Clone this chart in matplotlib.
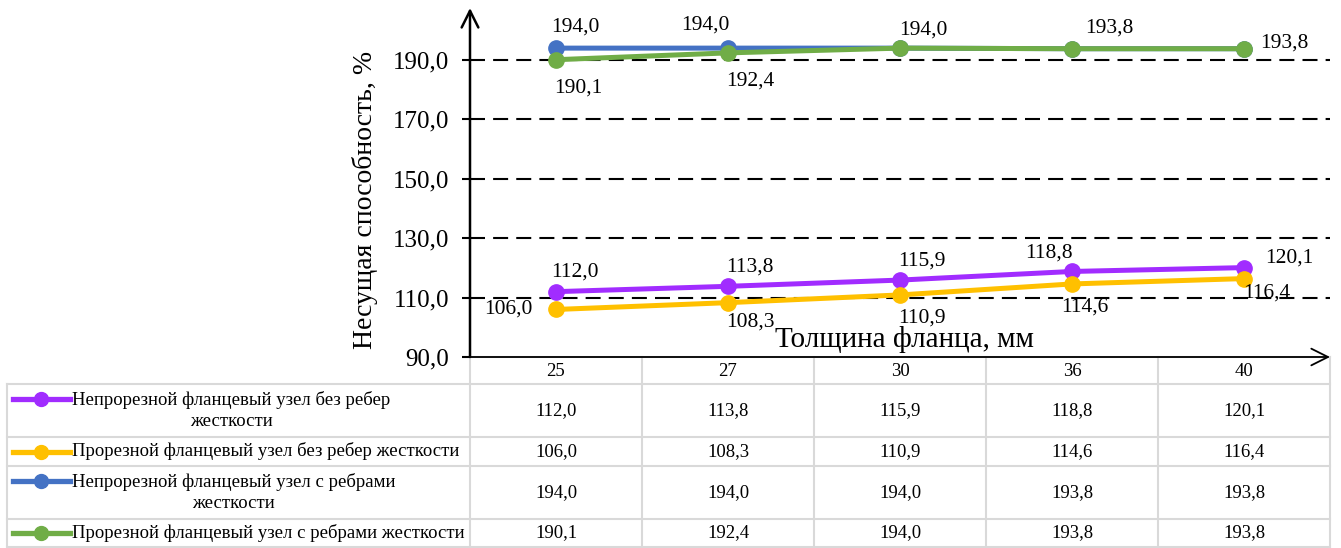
import numpy as np
import matplotlib.pyplot as plt

plt.rcParams["font.family"] = ["Liberation Serif", "DejaVu Serif"]

thickness = ["25", "27", "30", "36", "40"]
series_names = [
    "Непрорезной фланцевый узел без ребер\nжесткости",
    "Прорезной фланцевый узел без ребер жесткости",
    "Непрорезной фланцевый узел с ребрами\nжесткости",
    "Прорезной фланцевый узел с ребрами жесткости",
]
solid_no_ribs = [112.0, 113.8, 115.9, 118.8, 120.1]
slotted_no_ribs = [106.0, 108.3, 110.9, 114.6, 116.4]
solid_ribs = [194.0, 194.0, 194.0, 193.8, 193.8]
slotted_ribs = [190.1, 192.4, 194.0, 193.8, 193.8]
values = [solid_no_ribs, slotted_no_ribs, solid_ribs, slotted_ribs]
colors = ["#A12CFF", "#FFC000", "#4472C4", "#70AD47"]

# label offsets in pixels (None = label not shown)
offsets = [
    [(19, 20), (22, 19), (22, 19), (-23, 18), (45, 10)],
    [(-48, 0), (22, -19), (22, -23), (13, -23), (23, -14)],
    [(19, 21), (-23, 23), (23, 18), (37, 21), (40, 6)],
    [(22, -28), (22, -28), None, None, None],
]

W, H = 1341, 548
fig = plt.figure(figsize=(W / 100, H / 100), dpi=100)

# pixel-coordinate layer for the data table
tab = fig.add_axes([0, 0, 1, 1])
tab.set_xlim(0, W)
tab.set_ylim(H, 0)
tab.axis("off")

ax_l, ax_r, ax_t, ax_b = 470, 1330, 8, 357
ax = fig.add_axes([ax_l / W, 1 - ax_b / H, (ax_r - ax_l) / W, (ax_b - ax_t) / H])
ax.patch.set_alpha(0)

x = np.arange(len(thickness))
ax.set_xlim(-0.5, len(thickness) - 0.5)
ax.set_ylim(90, 90 + (ax_b - ax_t) / 2.97)

yticks = [90, 110, 130, 150, 170, 190]
ax.set_yticks(yticks)
ax.set_yticklabels([f"{v:.1f}".replace(".", ",") for v in yticks], fontsize=18)
ax.set_xticks([])
for v in yticks[1:]:
    ax.axhline(v, color="black", lw=1.5, ls=(0, (7.2, 3.9)), zorder=1)
for s in ["top", "right", "bottom", "left"]:
    ax.spines[s].set_visible(False)
ax.tick_params(axis="y", length=6, width=1.5, pad=9)

ax.annotate("", xy=(0, 1), xytext=(0, 0), xycoords="axes fraction",
            arrowprops=dict(arrowstyle="->", lw=1.8, color="black",
                            mutation_scale=30, shrinkA=0, shrinkB=0))
ax.annotate("", xy=(1, 0), xytext=(0, 0), xycoords="axes fraction",
            arrowprops=dict(arrowstyle="->", lw=1.3, color="black",
                            mutation_scale=30, shrinkA=0, shrinkB=0))

ax.set_ylabel("Несущая способность, %", fontsize=20)
ax.yaxis.set_label_coords(-0.107, 0.45)
ax.text(0.505, 0.05, "Толщина фланца, мм", transform=ax.transAxes,
        ha="center", va="center", fontsize=21)

for i in range(len(values)):
    ax.plot(x, values[i], color=colors[i], lw=3.6, marker="o", ms=11,
            zorder=3 + i, clip_on=False)
    for j, v in enumerate(values[i]):
        off = offsets[i][j]
        if off is None:
            continue
        ax.annotate(f"{v:.1f}".replace(".", ","), (x[j], v), xytext=off,
                    textcoords="offset pixels", ha="center", va="center",
                    fontsize=15.5, zorder=10)

# table
grid_c = "#D9D9D9"
col_w = (ax_r - ax_l) / len(thickness)
rows = [384, 437, 466, 519, 547]
left = 7
tab.plot([ax_l, ax_r], [ax_b, ax_b], color=grid_c, lw=1.5)
for r in rows:
    tab.plot([left, ax_r], [r, r], color=grid_c, lw=1.5)
tab.plot([left, left], [rows[0], rows[-1]], color=grid_c, lw=1.5)
for k in range(len(thickness) + 1):
    xx = ax_l + k * col_w
    tab.plot([xx, xx], [ax_b, rows[-1]], color=grid_c, lw=1.5)

for k, t in enumerate(thickness):
    tab.text(ax_l + (k + 0.5) * col_w, (ax_b + rows[0]) / 2 + 1, t,
             ha="center", va="center", fontsize=13.5)

for i, name in enumerate(series_names):
    r0, r1 = rows[i], rows[i + 1]
    cy = (r0 + r1) / 2
    two_line = "\n" in name
    ly = cy - 12 if two_line else cy
    tab.plot([13, 70], [ly, ly], color=colors[i], lw=3.8)
    tab.plot([41], [ly], "o", color=colors[i], ms=10)
    tab.text(72, cy, name, ha="left", va="center", multialignment="center",
             fontsize=13.5, linespacing=1.25)
    for k, v in enumerate(values[i]):
        tab.text(ax_l + (k + 0.5) * col_w, cy, f"{v:.1f}".replace(".", ","),
                 ha="center", va="center", fontsize=13.5)

fig.savefig("out.png", dpi=100)
